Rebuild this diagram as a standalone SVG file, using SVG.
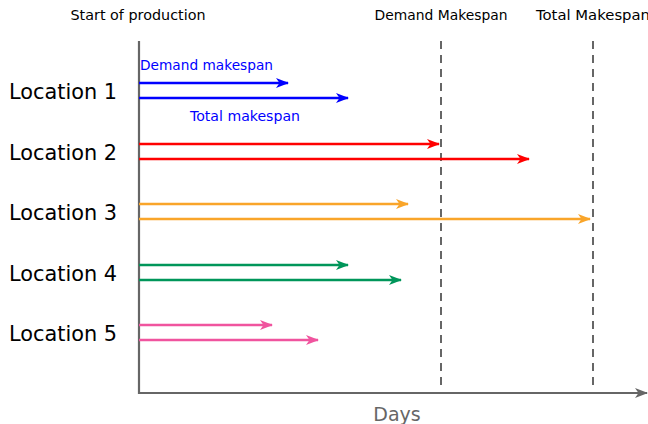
<svg xmlns="http://www.w3.org/2000/svg" width="648" height="424" viewBox="0 0 648 424">
  <style>
    .lbl { font-family: "DejaVu Sans", "Liberation Sans", sans-serif; fill: #000; }
    .loc { font-size: 21px; }
    .top { font-size: 13.6px; }
    .note { font-size: 13.6px; fill: #0000ff; }
    .axis { stroke: #666; stroke-width: 2.2; fill: none; }
    .dash { stroke: #666; stroke-width: 2; stroke-dasharray: 8 6; fill: none; }
    .bar { stroke-width: 2.4; fill: none; }
  </style>
  <defs>
    <marker id="ah" viewBox="0 0 13 10" refX="12" refY="5" markerWidth="13" markerHeight="10" markerUnits="userSpaceOnUse" orient="auto">
      <path d="M0,0 L13,5 L0,10 L3.5,5 Z" fill="context-stroke"/>
    </marker>
    <marker id="ax" viewBox="0 0 13 10" refX="12" refY="5" markerWidth="13" markerHeight="10" markerUnits="userSpaceOnUse" orient="auto">
      <path d="M0,0 L13,5 L0,10 L3.5,5 Z" fill="#666"/>
    </marker>
  </defs>

  <!-- axes and reference lines -->
  <g id="axes">
    <line class="axis" x1="139" y1="41" x2="139" y2="394"/>
    <line class="axis" x1="138" y1="393" x2="647" y2="393" marker-end="url(#ax)"/>
    <line class="dash" x1="441" y1="41" x2="441" y2="386"/>
    <line class="dash" x1="593" y1="41" x2="593" y2="386"/>
    <text class="lbl" x="397" y="421" font-size="19" text-anchor="middle" style="fill:#666">Days</text>
  </g>

  <g id="headers">
    <text class="lbl top" x="138" y="20" text-anchor="middle" textLength="135" lengthAdjust="spacingAndGlyphs">Start of production</text>
    <text class="lbl top" x="441" y="20" text-anchor="middle" textLength="133" lengthAdjust="spacingAndGlyphs">Demand Makespan</text>
    <text class="lbl top" x="593" y="20" text-anchor="middle" textLength="114" lengthAdjust="spacingAndGlyphs">Total Makespan</text>
  </g>

  <g id="location1">
    <text class="lbl loc" x="9" y="99" textLength="108" lengthAdjust="spacingAndGlyphs">Location 1</text>
    <text class="lbl note" x="140" y="70" textLength="133" lengthAdjust="spacingAndGlyphs">Demand makespan</text>
    <text class="lbl note" x="190" y="121" textLength="110" lengthAdjust="spacingAndGlyphs">Total makespan</text>
  </g>
  <g id="location2">
    <text class="lbl loc" x="9" y="160" textLength="108" lengthAdjust="spacingAndGlyphs">Location 2</text>
  </g>
  <g id="location3">
    <text class="lbl loc" x="9" y="220" textLength="108" lengthAdjust="spacingAndGlyphs">Location 3</text>
  </g>
  <g id="location4">
    <text class="lbl loc" x="9" y="281" textLength="108" lengthAdjust="spacingAndGlyphs">Location 4</text>
  </g>
  <g id="location5">
    <text class="lbl loc" x="9" y="341" textLength="108" lengthAdjust="spacingAndGlyphs">Location 5</text>
  </g>

  <!-- makespan arrows -->
  <g id="connectors">
    <line class="bar" stroke="#0000ff" x1="139" y1="83" x2="288" y2="83" marker-end="url(#ah)"/>
    <line class="bar" stroke="#0000ff" x1="139" y1="98" x2="348" y2="98" marker-end="url(#ah)"/>
    <line class="bar" stroke="#ff0000" x1="139" y1="144" x2="439" y2="144" marker-end="url(#ah)"/>
    <line class="bar" stroke="#ff0000" x1="139" y1="159" x2="529" y2="159" marker-end="url(#ah)"/>
    <line class="bar" stroke="#f9a52a" x1="139" y1="204" x2="408" y2="204" marker-end="url(#ah)"/>
    <line class="bar" stroke="#f9a52a" x1="139" y1="219" x2="590" y2="219" marker-end="url(#ah)"/>
    <line class="bar" stroke="#00965a" x1="139" y1="265" x2="348" y2="265" marker-end="url(#ah)"/>
    <line class="bar" stroke="#00965a" x1="139" y1="280" x2="401" y2="280" marker-end="url(#ah)"/>
    <line class="bar" stroke="#f0549e" x1="139" y1="325" x2="272" y2="325" marker-end="url(#ah)"/>
    <line class="bar" stroke="#f0549e" x1="139" y1="340" x2="318" y2="340" marker-end="url(#ah)"/>
  </g>
</svg>
